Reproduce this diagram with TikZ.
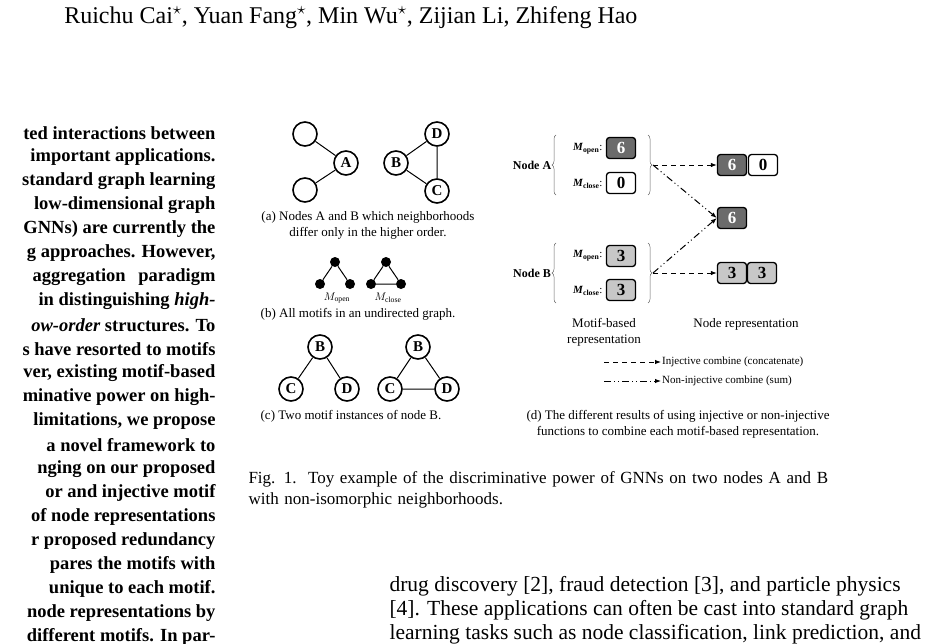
\documentclass[tikz,border=0pt]{standalone}
\usepackage{fontspec}
\setmainfont{Liberation Serif}
\usetikzlibrary{arrows.meta,decorations.pathreplacing}
\begin{document}
\begin{tikzpicture}[x=1pt,y=-1pt,
  gn/.style={circle,draw,line width=1.6pt,minimum size=24pt,inner sep=0pt,font=\fontsize{15}{15}\selectfont\bfseries},
  dot/.style={circle,fill,minimum size=10pt,inner sep=0pt},
  ed/.style={line width=1pt},
  captxt/.style={font=\fontsize{13}{16}\selectfont,align=center},
  bx/.style={draw,line width=1.3pt,rounded corners=3pt,minimum width=29pt,minimum height=21pt,inner sep=0pt,font=\fontsize{17}{17}\selectfont\bfseries},
  dk/.style={bx,fill=black!58,text=white},
  lt/.style={bx,fill=black!22},
  wt/.style={bx,fill=white},
  lab/.style={font=\fontsize{11}{11}\selectfont},
  body/.style={font=\fontsize{18.5}{18.5}\selectfont\bfseries,anchor=east},
  txt/.style={font=\fontsize{21.5}{21.5}\selectfont,anchor=west},
  br/.style={decorate,decoration={brace,amplitude=4pt},draw=black!60,line width=0.5pt},
  inj/.style={line width=1pt,-{Latex[length=6pt]},dash pattern=on 5pt off 4pt},
  nin/.style={line width=1pt,-{Latex[length=6pt]},dash pattern=on 7pt off 3pt on 1pt off 3pt on 1pt off 3pt}]
\useasboundingbox (0,0) rectangle (925,643);
% header
\node[anchor=east,font=\fontsize{24}{24}\selectfont] (hd) at (641,18) {Ruichu Cai$^\star$, Yuan Fang$^\star$, Min Wu$^\star$, Zijian Li, Zhifeng Hao};
% left column
\foreach \t [count=\i from 0] in {ted interactions between,important applications.,standard graph learning,low-dimensional graph,GNNs) are currently the,{g approaches. However,},aggregation\hspace{8pt} paradigm,in distinguishing \textit{high-},\textit{ow-order} structures. To,s have resorted to motifs,{ver, existing motif-based},minative power on high-,{limitations, we propose},a novel framework to,nging on our proposed,or and injective motif,of node representations,r proposed redundancy,pares the motifs with,unique to each motif.,node representations by,different motifs. In par-}
  \node[body] (l\i) at (219,133+24*\i) {\t};
% (a)
\node[gn] (e1) at (305,134) {};
\node[gn] (e2) at (305,190) {};
\node[gn] (A) at (346,163) {A};
\draw[ed] (e1)--(A) (e2)--(A);
\node[gn] (B) at (396,163) {B};
\node[gn] (D) at (437,134) {D};
\node[gn] (C) at (437,191) {C};
\draw[ed] (B)--(D) (B)--(C) (C)--(D);
\node[captxt] (ca) at (368,225) {(a) Nodes A and B which neighborhoods\\differ only in the higher order.};
% (b)
\node[dot] (o1) at (335,262) {}; \node[dot] (o2) at (320,284) {}; \node[dot] (o3) at (350,284) {};
\draw[ed] (o1)--(o2) (o1)--(o3);
\node[dot] (c1) at (386,262) {}; \node[dot] (c2) at (371,284) {}; \node[dot] (c3) at (401,284) {};
\draw[ed] (c1)--(c2) (c1)--(c3) (c2)--(c3);
\node[font=\fontsize{11}{11}\selectfont] (mo) at (337,298) {$M_{\mathrm{open}}$};
\node[font=\fontsize{11}{11}\selectfont] (mc) at (388,298) {$M_{\mathrm{close}}$};
\node[captxt] (cb) at (358,314) {(b) All motifs in an undirected graph.};
% (c)
\node[gn] (B1) at (320,347) {B}; \node[gn] (C1) at (291,389) {C}; \node[gn] (D1) at (347,389) {D};
\draw[ed] (B1)--(C1) (B1)--(D1);
\node[gn] (B2) at (418,347) {B}; \node[gn] (C2) at (390,389) {C}; \node[gn] (D2) at (447,389) {D};
\draw[ed] (B2)--(C2) (B2)--(D2) (C2)--(D2);
\node[captxt] (cc) at (351,416) {(c) Two motif instances of node B.};
% (d)
\node[font=\fontsize{12}{12}\selectfont\bfseries] (nA) at (532,165) {Node A};
\node[font=\fontsize{12}{12}\selectfont\bfseries] (nB) at (532,273) {Node B};
\draw[br] (556,195)--(556,135);
\draw[br] (648,135)--(648,195);
\draw[br] (556,303)--(556,243);
\draw[br] (648,243)--(648,303);
\coordinate (tA) at (653,165); \coordinate (tB) at (653,273);
\node[lab,anchor=east] (a1) at (606,149) {\textbf{\textit{M}}\textsubscript{\textbf{open}}:};
\node[lab,anchor=east] (a2) at (606,184) {\textbf{\textit{M}}\textsubscript{\textbf{close}}:};
\node[lab,anchor=east] (b1) at (606,256) {\textbf{\textit{M}}\textsubscript{\textbf{open}}:};
\node[lab,anchor=east] (b2) at (606,291) {\textbf{\textit{M}}\textsubscript{\textbf{close}}:};
\node[dk] (A6) at (621,148) {6};
\node[wt] (A0) at (621,183) {0};
\node[lt] (B3a) at (621,256) {3};
\node[lt] (B3b) at (621,290) {3};
\node[dk] (R6) at (732,165) {6};
\node[wt] (R0) at (763,165) {0};
\node[dk] (S6) at (732,218) {6};
\node[lt] (R3a) at (732,273) {3};
\node[lt] (R3b) at (762,273) {3};
\draw[inj] (tA)--(R6.west);
\draw[inj] (tB)--(R3a.west);
\draw[nin] (tA)--(S6.west);
\draw[nin] (tB)--(S6.west);
\node[captxt] (mb) at (604,332) {Motif-based\\representation};
\node[captxt] (nr) at (746,324) {Node representation};
\coordinate (g1) at (604,362); \coordinate (g2) at (661,362);
\coordinate (h1) at (604,381); \coordinate (h2) at (661,381);
\draw[inj] (g1)--(g2);
\draw[nin] (h1)--(h2);
\node[lab,anchor=west,inner sep=1pt] (li) at (g2) {Injective combine (concatenate)};
\node[lab,anchor=west,inner sep=1pt] (ln) at (h2) {Non-injective combine (sum)};
\node[captxt] (cd) at (678,424) {(d) The different results of using injective or non-injective\\functions to combine each motif-based representation.};
% caption
\node[anchor=west,font=\fontsize{17}{21}\selectfont,align=left,text width=610pt] (fig) at (245,490) {Fig. 1.\ \ Toy example of the discriminative power of GNNs on two nodes A and B with non-isomorphic neighborhoods.};
% right body
\node[txt] (r1) at (386,586) {drug discovery [2], fraud detection [3], and particle physics};
\node[txt] (r2) at (386,610) {[4]. These applications can often be cast into standard graph};
\node[txt] (r3) at (386,634) {learning tasks such as node classification, link prediction, and};
\end{tikzpicture}
\end{document}
